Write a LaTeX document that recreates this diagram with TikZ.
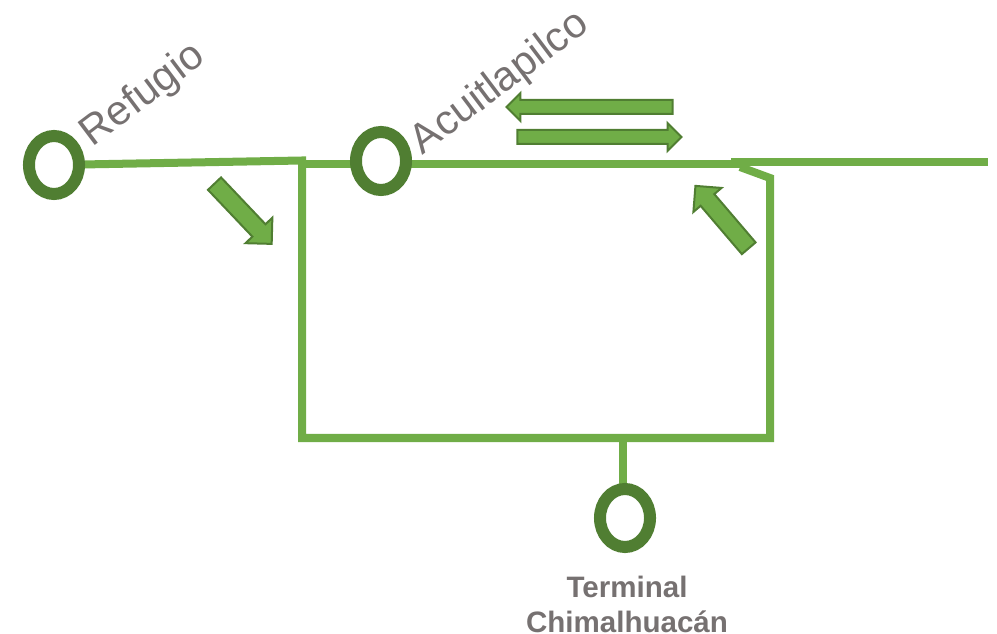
\documentclass[tikz,border=0pt]{standalone}
\usepackage{fontspec}
\setmainfont{Liberation Sans}
\usetikzlibrary{positioning}
\usetikzlibrary{backgrounds}
\usetikzlibrary{shapes.geometric}
\usetikzlibrary{shapes.arrows}
\definecolor{linegreen}{HTML}{70AD47}
\definecolor{darkgreen}{HTML}{507E32}
\definecolor{labelgray}{HTML}{767171}
\tikzset{station/.style={shape=ellipse, draw=darkgreen, fill=white, line width=0.12cm, minimum width=0.5cm, minimum height=0.58cm, inner sep=0pt},
  railline/.style={draw=linegreen, line width=0.08cm},
  flowarrow/.style={shape=single arrow, draw=darkgreen, fill=linegreen, line width=0.02cm, inner sep=0.06cm, outer sep=0pt, single arrow head extend=0.07cm, single arrow tip angle=90, single arrow head indent=0pt},
  stationname/.style={text=labelgray, font=\fontsize{11.8pt}{14pt}\selectfont, anchor=south west, inner sep=0pt},
  terminalname/.style={text=labelgray, font=\fontsize{8.4pt}{10pt}\selectfont\bfseries, align=center, inner sep=0pt}}

\begin{document}
\begin{tikzpicture}[x=0.01cm, y=-0.01cm]
    \useasboundingbox (0,0) rectangle (997,634);
    \coordinate (corner) at (302,160.5);
    \coordinate (branch) at (305,164);
    \coordinate (mainend) at (741,164);
    \coordinate (easta) at (731,162.5);
    \coordinate (eastb) at (988,162.5);
    \coordinate (bendtop) at (740,167);
    \coordinate (bend) at (770,178);
    \coordinate (lowerright) at (770,438);
    \coordinate (lowerleft) at (302,438);
    \coordinate (tee) at (622.5,434);

    \node[station] (refugio) at (54,165) {};
    \node[station] (acuitlapilco) at (381,161) {};
    \node[station] (terminal) at (625,518) {};

    \begin{scope}[on background layer]
    \draw[railline] (refugio) -- (corner) -- (lowerleft) -- (lowerright) -- (bend) -- (bendtop);
    \draw[railline] (branch) -- (mainend);
    \draw[railline] (easta) -- (eastb);
    \draw[railline] (tee) -- (tee |- terminal);
    \end{scope}

    \node[stationname, rotate=37] (refugiolabel) at (98,155) {Refugio};
    \node[stationname, rotate=37] (acuitlapilcolabel) at (428,163) {Acuitlapilco};
    \node[terminalname, below=0.22cm of terminal, xshift=0.02cm] (terminallabel) {Terminal\\Chimalhuacán};

    \node[flowarrow, minimum height=1.66cm, minimum width=0.26cm, rotate=180] (westarrow) at (593,107) {};
    \node[flowarrow, minimum height=1.64cm, minimum width=0.26cm] (eastarrow) at (596,137) {};
    \node[flowarrow, minimum height=0.83cm, rotate=-46.5, single arrow head extend=0.095cm, inner sep=0.08cm] (downarrow) at (240,210.5) {};
    \node[flowarrow, minimum height=0.82cm, rotate=130.5, single arrow head extend=0.095cm, inner sep=0.08cm] (uparrow) at (725,220.5) {};
\end{tikzpicture}
\end{document}
